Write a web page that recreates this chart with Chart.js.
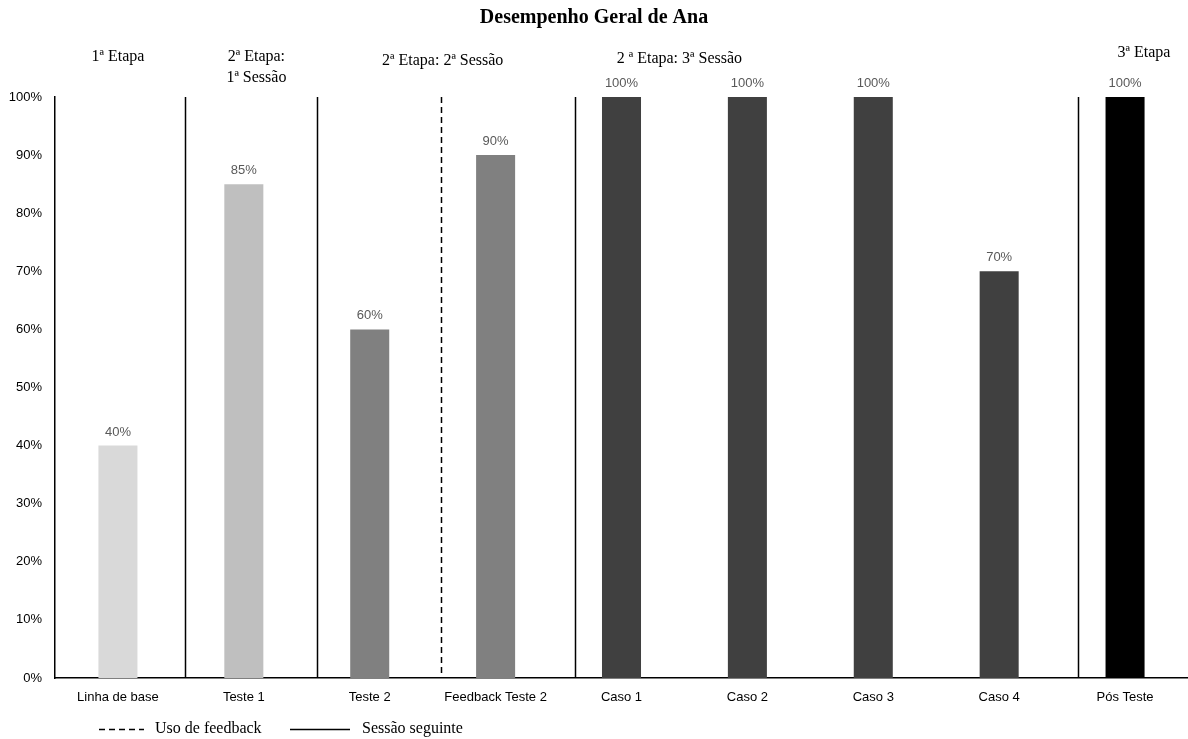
<!DOCTYPE html>
<html>
<head>
<meta charset="utf-8">
<script src="https://cdn.jsdelivr.net/npm/chart.js@4"></script>
<style>
  body { margin: 0; background: #fff; }
  #wrap { width: 1188px; height: 739px; }
</style>
</head>
<body>
<div id="wrap"><canvas id="grafico"></canvas></div>
<script>
// dados
var categorias = ['Linha de base', 'Teste 1', 'Teste 2', 'Feedback Teste 2', 'Caso 1', 'Caso 2', 'Caso 3', 'Caso 4', 'Pós Teste'];
var valores = [40, 85, 60, 90, 100, 100, 100, 70, 100];
var cores = ['#d9d9d9', '#bfbfbf', '#808080', '#808080', '#404040', '#404040', '#404040', '#404040', '#000000'];

// linhas verticais entre sessões (posição em unidades de categoria)
var separadores = [0.53, 1.58, 2.57, 3.63, 7.63];
var tracejado = [false, false, true, false, false];

// rótulos das etapas: texto, posição (categoria), linha
var etapas = [
    { linhas: ['1ª Etapa'], x: 0.0, y: 57 },
    { linhas: ['2ª Etapa:', '1ª Sessão'], x: 1.1, y: 57 },
    { linhas: ['2ª Etapa: 2ª Sessão'], x: 2.58, y: 61 },
    { linhas: ['2 ª Etapa: 3ª Sessão'], x: 4.46, y: 59 },
    { linhas: ['3ª Etapa'], x: 8.15, y: 53 }
];

var serif = '"Liberation Serif", "Times New Roman", serif';
var sans = '"Liberation Sans", Arial, sans-serif';

var desenhos = {
    id: 'desenhos',
    afterDatasetsDraw: function (chart) {
        var ctx = chart.ctx;
        var x = chart.scales.x, y = chart.scales.y;
        var area = chart.chartArea;
        ctx.save();

        // separadores
        ctx.strokeStyle = '#000';
        ctx.lineWidth = 1.5;
        for (var i = 0; i < separadores.length; i++) {
            var px = Math.round(x.getPixelForValue(separadores[i])) + 0.5;
            ctx.setLineDash(tracejado[i] ? [6, 4] : []);
            ctx.beginPath();
            ctx.moveTo(px, y.getPixelForValue(100));
            ctx.lineTo(px, area.bottom);
            ctx.stroke();
        }
        ctx.setLineDash([]);

        // rótulos de dados
        ctx.fillStyle = '#595959';
        ctx.font = '13px ' + sans;
        ctx.textAlign = 'center';
        ctx.textBaseline = 'bottom';
        var meta = chart.getDatasetMeta(0);
        meta.data.forEach(function (bar, i) {
            ctx.fillText(valores[i] + '%', bar.x, bar.y - 7);
        });

        // título
        ctx.fillStyle = '#000';
        ctx.font = 'bold 20px ' + serif;
        ctx.textBaseline = 'middle';
        ctx.fillText('Desempenho Geral de Ana', 594, 18);

        // etapas
        ctx.font = '16px ' + serif;
        etapas.forEach(function (e) {
            var ex = x.getPixelForValue(e.x);
            e.linhas.forEach(function (l, k) {
                ctx.fillText(l, ex, e.y + k * 21);
            });
        });

        // legenda
        var ly = 729;
        ctx.lineWidth = 1.3;
        ctx.setLineDash([6, 4]);
        ctx.beginPath();
        ctx.moveTo(99, ly + 0.5);
        ctx.lineTo(144, ly + 0.5);
        ctx.stroke();
        ctx.setLineDash([]);
        ctx.beginPath();
        ctx.moveTo(290, ly + 0.5);
        ctx.lineTo(350, ly + 0.5);
        ctx.stroke();
        ctx.textAlign = 'left';
        ctx.fillText('Uso de feedback', 155, ly);
        ctx.fillText('Sessão seguinte', 362, ly);

        ctx.restore();
    }
};

var ctx = document.getElementById('grafico').getContext('2d');
var grafico = new Chart(ctx, {
    type: 'bar',
    data: {
        labels: categorias,
        datasets: [{
            data: valores,
            backgroundColor: cores,
            borderWidth: 0,
            barPercentage: 0.31,
            categoryPercentage: 1
        }]
    },
    options: {
        responsive: true,
        maintainAspectRatio: false,
        animation: false,
        layout: { padding: { top: 97, right: 0, bottom: 0, left: 0 } },
        plugins: {
            legend: { display: false },
            tooltip: { enabled: false }
        },
        scales: {
            x: {
                grid: { display: false, drawTicks: false },
                border: { display: true, color: '#000', width: 1.5 },
                ticks: { color: '#000', font: { family: sans, size: 13 }, padding: 12, maxRotation: 0 },
                afterFit: function (s) { s.height = 61; }
            },
            y: {
                min: 0,
                max: 100,
                grid: { display: false, drawTicks: false },
                border: { display: true, color: '#000', width: 1.5 },
                ticks: {
                    stepSize: 10,
                    color: '#000',
                    font: { family: sans, size: 13 },
                    padding: 13,
                    callback: function (v) { return v + '%'; }
                },
                afterFit: function (s) { s.width = 55; }
            }
        }
    },
    plugins: [desenhos]
});
</script>
</body>
</html>
